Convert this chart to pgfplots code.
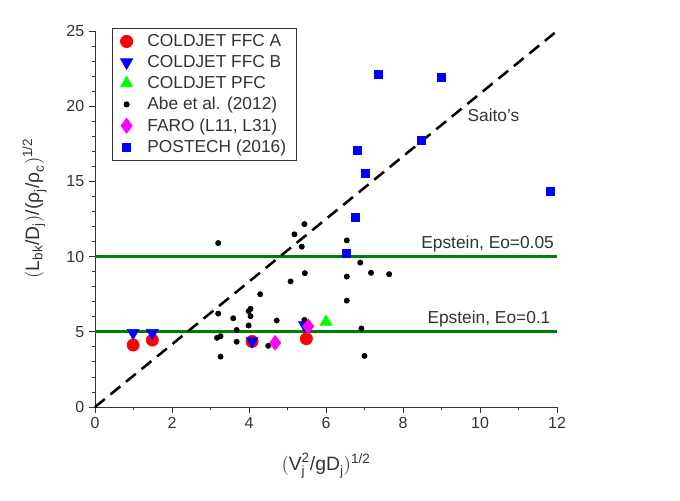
\documentclass[border=0pt]{standalone}
\usepackage{pgfplots}
\pgfplotsset{compat=1.18}
\usepackage{amsmath}
\usepackage{fontspec}
\setmainfont{Liberation Sans}

\definecolor{txt}{HTML}{333333}
\definecolor{eline}{HTML}{008000}
\definecolor{mag}{RGB}{255,0,255}
\definecolor{grn}{RGB}{0,255,0}

\begin{document}
\begin{tikzpicture}
\useasboundingbox (0,0) rectangle (510pt,375pt);
\begin{axis}[
    at={(71.25pt,69.75pt)}, anchor=south west,
    scale only axis,
    width=346.5pt, height=282pt,
    xmin=0, xmax=12, ymin=0, ymax=25,
    axis x line=bottom, axis y line=left,
    axis line style={-, draw=txt, line width=0.7pt},
    clip=false,
    xtick={0,2,...,12}, ytick={0,5,...,25},
    minor x tick num=1, minor y tick num=4,
    tick align=outside,
    major tick length=4.5pt, minor tick length=2.5pt,
    tick style={draw=txt, line width=0.6pt},
    /pgf/number format/assume math mode=true,
    ticklabel style={font=\fontsize{12}{14}\selectfont, text=txt},
    xlabel={$(\text{V}_{\text{j}}^{\text{2}}\text{/gD}_{\text{j}})^{\text{1/2}}$},
    ylabel={$(\text{L}_{\text{bk}}\text{/D}_{\text{j}})\text{/(ρ}_{\text{j}}\text{/ρ}_{\text{c}})^{\text{1/2}}$},
    label style={font=\fontsize{14.5}{16}\selectfont, text=txt},
    xlabel style={yshift=-11pt},
    ylabel style={yshift=8pt, xshift=8pt},
    legend style={
        at={(0.037,1.008)}, anchor=north west,
        draw=txt, line width=0.6pt,
        font=\fontsize{13}{15}\selectfont, text=txt,
        row sep=1.1pt, inner xsep=6pt, inner ysep=2.5pt,
        cells={anchor=west},
        /tikz/every odd column/.append style={column sep=9pt},
    },
    legend cell align=left,
]
% reference lines
\addplot[eline, line width=2.2pt, forget plot] coordinates {(0,10) (12,10)};
\addplot[eline, line width=2.2pt, forget plot] coordinates {(0,5) (12,5)};
\addplot[black, line width=1.9pt, dash pattern=on 9.5pt off 5.5pt, forget plot]
    coordinates {(0,0) (12,25)};

% COLDJET FFC A
\addplot[only marks, mark=*, mark size=4.6pt, color=red, mark options={fill=red, draw=red}]
coordinates {(0.99,4.12) (1.49,4.45) (4.08,4.36) (5.49,4.54)};
\addlegendentry{COLDJET FFC A}
% COLDJET FFC B
\addplot[only marks, mark=triangle*, mark size=5.2pt, color=blue,
    mark options={fill=blue, draw=blue, rotate=180}]
coordinates {(0.99,4.93) (1.49,4.93) (4.08,4.38) (5.44,5.44)};
\addlegendentry{COLDJET FFC B}
% COLDJET PFC
\addplot[only marks, mark=triangle*, mark size=5.2pt, color=grn,
    mark options={fill=grn, draw=grn}]
coordinates {(6.00,5.66)};
\addlegendentry{COLDJET PFC}
% Abe et al. (2012)
\addplot[only marks, mark=*, mark size=2pt, color=black]
coordinates {
(3.20,10.90) (5.44,12.16) (5.18,11.48) (5.37,10.66) (6.54,11.08)
(5.45,8.90) (5.08,8.35) (4.29,7.50) (6.54,8.67) (6.89,9.60)
(7.17,8.92) (7.64,8.83) (6.54,7.07) (3.20,6.21) (3.59,5.90)
(3.68,5.12) (3.68,4.34) (3.99,6.37) (4.04,6.53) (4.04,6.04)
(3.99,5.42) (3.17,4.60) (3.26,4.71) (3.26,3.35) (4.72,5.75)
(4.50,4.07) (5.44,5.79) (6.92,5.22) (7.00,3.40)
};
\addlegendentry{Abe et al. (2012)}
% FARO (L11, L31)
\addplot[only marks, mark=diamond*, mark size=5.6pt, color=mag,
    mark options={fill=mag, draw=mag}]
coordinates {(4.68,4.27) (5.54,5.37)};
\addlegendentry{FARO (L11, L31)}
% POSTECH (2016)
\addplot[only marks, mark=square*, mark size=3pt, color=blue,
    mark options={fill=blue, draw=blue}]
coordinates {
(6.53,10.22) (6.75,12.60) (7.03,15.57) (6.80,17.10) (7.35,22.10)
(8.99,21.95) (8.47,17.75) (11.83,14.32)
};
\addlegendentry{POSTECH (2016)}

\node[font=\fontsize{13}{15}\selectfont, text=txt] at (axis cs:10.35,19.4) {Saito's};
\node[font=\fontsize{13}{15}\selectfont, text=txt, anchor=south east, inner sep=1pt]
    at (axis cs:11.96,10.2) {Epstein, Eo=0.05};
\node[font=\fontsize{13}{15}\selectfont, text=txt, anchor=south east, inner sep=1pt]
    at (axis cs:11.87,5.2) {Epstein, Eo=0.1};
\end{axis}
\end{tikzpicture}
\end{document}
